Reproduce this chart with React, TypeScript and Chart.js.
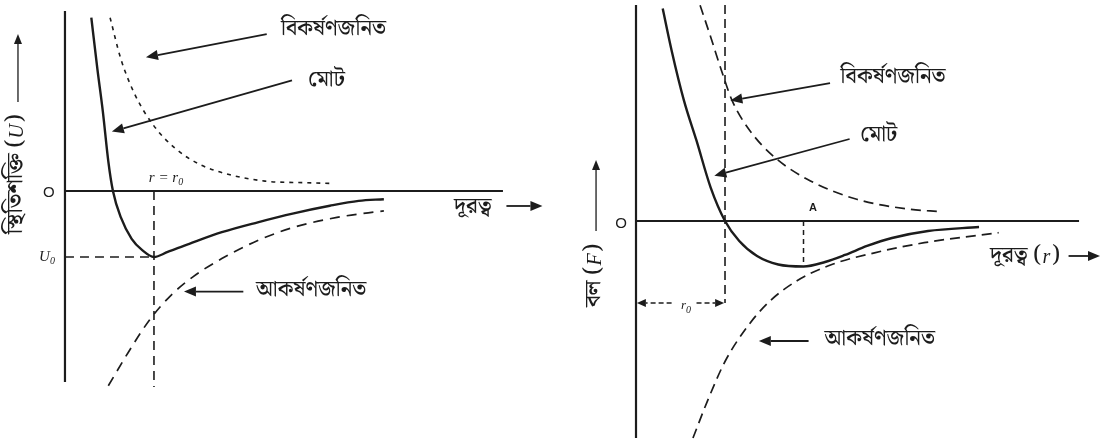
import React, { useEffect, useRef } from "react";
import { Chart, registerables } from "chart.js";

Chart.register(...registerables);

// ---------- Potential energy U(r): r in units of r0, U in units of |U0| ----------
const potTotalR = [0.296, 0.364, 0.426, 0.487, 0.539, 0.628, 0.749, 0.871, 1.0, 1.154, 1.397, 1.762, 2.166, 2.57, 2.976, 3.3, 3.583];
const potTotalU = [2.626, 1.85, 1.2, 0.45, 0, -0.4, -0.724, -0.9, -1.0, -0.924, -0.8, -0.624, -0.474, -0.339, -0.224, -0.15, -0.124];

const potRepR = [0.507, 0.628, 0.79, 0.992, 1.235, 1.518, 1.843, 2.247, 2.692, 2.976];
const potRepU = [2.626, 2.0, 1.45, 1.0, 0.65, 0.4, 0.25, 0.15, 0.126, 0.115];

const potAttR = [0.487, 0.709, 0.952, 1.194, 1.438, 1.762, 2.166, 2.57, 3.056, 3.583];
const potAttU = [-2.95, -2.45, -1.95, -1.576, -1.3, -1.024, -0.75, -0.55, -0.4, -0.3];

// ---------- Force F(r): r in units of r0, F in units of |F| at point A ----------
const forceTotalR = [0.3, 0.4, 0.539, 0.68, 0.839, 1.0, 1.16, 1.36, 1.598, 1.882, 2.124, 2.348, 2.596, 2.876, 3.281, 3.854];
const forceTotalF = [4.668, 3.749, 2.646, 1.765, 0.734, 0, -0.44, -0.771, -0.956, -1.0, -0.901, -0.747, -0.549, -0.374, -0.22, -0.132];

const forceRepR = [0.72, 0.839, 0.96, 1.08, 1.28, 1.56, 1.96, 2.48, 3.079, 3.419];
const forceRepF = [4.741, 4.044, 3.308, 2.646, 1.985, 1.396, 0.881, 0.477, 0.257, 0.207];

const forceAttR = [0.64, 0.8, 1.0, 1.24, 1.481, 1.801, 2.2, 2.68, 3.239, 4.075];
const forceAttF = [-4.769, -3.969, -3.088, -2.352, -1.802, -1.323, -0.956, -0.699, -0.477, -0.257];

// Special points
const R0 = 1;          // equilibrium separation
const U0 = -1;         // minimum potential energy
const R_A = 1.882;     // separation of maximum attraction (point A)
const F_A = -1;

// Labels
const LBL_REP = "বিকর্ষণজনিত";
const LBL_TOTAL = "মোট";
const LBL_ATT = "আকর্ষণজনিত";
const LBL_DIST = "দূরত্ব";
const LBL_POT = "স্থিতিশক্তি";
const LBL_FORCE = "বল";

const INK = "#1c1c1c";
const BN = "'Noto Serif Bengali', 'Noto Sans Bengali', 'Lohit Bengali', 'FreeSerif', 'Noto Sans', sans-serif";
const F_BN = `500 22px ${BN}`;
const F_BN_AX = `500 23px ${BN}`;
const F_IT = "italic 15px 'Liberation Serif', serif";
const F_IT_AX = "italic 20px 'Liberation Serif', serif";
const F_IT_S = "italic 10px 'Liberation Serif', serif";
const F_O = "15px 'Liberation Sans', sans-serif";

type Pt = { x: number; y: number };
type Run = [string, string];
type Note =
  | { type: "text"; x: number; y: number; runs: Run[]; align?: "left" | "center" }
  | { type: "vtext"; x: number; y: number; runs: Run[] }
  | { type: "arrow"; from: [number, number]; to: [number, number]; dash?: number[]; width?: number; head?: number; half?: number };

const zip = (xs: number[], ys: number[]): Pt[] => xs.map((x, i) => ({ x, y: ys[i] }));

function curve(data: Pt[], width: number, dash: number[] = [], smooth = true) {
  return {
    data,
    showLine: true,
    borderColor: INK,
    borderWidth: width,
    borderDash: dash,
    borderCapStyle: "butt",
    pointRadius: 0,
    pointHoverRadius: 0,
    fill: false,
    tension: 0,
    cubicInterpolationMode: smooth ? "monotone" : "default",
  };
}

function runsWidth(ctx: CanvasRenderingContext2D, runs: Run[]) {
  let w = 0;
  for (const [t, f] of runs) {
    ctx.font = f;
    w += ctx.measureText(t).width;
  }
  return w;
}

function drawRuns(ctx: CanvasRenderingContext2D, runs: Run[], x: number, y: number) {
  let cx = x;
  for (const [t, f] of runs) {
    ctx.font = f;
    const sub = f === F_IT_S;
    ctx.fillText(t, cx, sub ? y + 4 : y);
    cx += ctx.measureText(t).width;
  }
}

function arrow(ctx: CanvasRenderingContext2D, x1: number, y1: number, x2: number, y2: number, dash: number[] = [], width = 1.8, head = 12, half = 5) {
  const a = Math.atan2(y2 - y1, x2 - x1);
  const bx = x2 - head * Math.cos(a);
  const by = y2 - head * Math.sin(a);
  ctx.save();
  ctx.strokeStyle = INK;
  ctx.fillStyle = INK;
  ctx.lineWidth = width;
  ctx.setLineDash(dash);
  ctx.beginPath();
  ctx.moveTo(x1, y1);
  ctx.lineTo(bx, by);
  ctx.stroke();
  ctx.setLineDash([]);
  ctx.beginPath();
  ctx.moveTo(x2, y2);
  ctx.lineTo(bx - half * Math.sin(a), by + half * Math.cos(a));
  ctx.lineTo(bx + half * Math.sin(a), by - half * Math.cos(a));
  ctx.closePath();
  ctx.fill();
  ctx.restore();
}

interface Panel {
  left: number;
  width: number;
  xMin: number;
  xMax: number;
  yMin: number;
  yMax: number;
  datasets: any[];
  notes: Note[];
}

const potentialPanel: Panel = {
  left: 0,
  width: 560,
  xMin: -0.73,
  xMax: 5.562,
  yMin: -3.818,
  yMax: 2.894,
  datasets: [
    curve([{ x: 0, y: 2.727 }, { x: 0, y: -2.894 }], 2.2, [], false),
    curve([{ x: 0, y: 0 }, { x: 4.921, y: 0 }], 2.2, [], false),
    curve([{ x: R0, y: 0 }, { x: R0, y: -2.97 }], 1.6, [9, 6], false),
    curve([{ x: 0, y: U0 }, { x: R0, y: U0 }], 1.6, [9, 6], false),
    curve(zip(potTotalR, potTotalU), 2.4),
    curve(zip(potRepR, potRepU), 1.6, [4, 5]),
    curve(zip(potAttR, potAttU), 1.7, [10, 7]),
  ],
  notes: [
    { type: "text", x: 2.427, y: 2.424, runs: [[LBL_REP, F_BN]] },
    { type: "arrow", from: [2.267, 2.376], to: [0.91, 2.026] },
    { type: "text", x: 2.73, y: 1.652, runs: [[LBL_TOTAL, F_BN]] },
    { type: "arrow", from: [2.551, 1.676], to: [0.527, 0.9] },
    { type: "text", x: 2.146, y: -1.524, runs: [[LBL_ATT, F_BN]] },
    { type: "arrow", from: [2.004, -1.524], to: [1.337, -1.524] },
    { type: "text", x: 4.371, y: -0.273, runs: [[LBL_DIST, F_BN_AX]] },
    { type: "arrow", from: [4.96, -0.227], to: [5.365, -0.227] },
    { type: "text", x: -0.182, y: -0.024, runs: [["O", F_O]], align: "center" },
    { type: "text", x: -0.202, y: -1.0, runs: [["U", F_IT], ["0", F_IT_S]], align: "center" },
    { type: "text", x: 1.135, y: 0.197, runs: [["r = r", F_IT], ["0", F_IT_S]], align: "center" },
    { type: "vtext", x: -0.528, y: -0.65, runs: [[LBL_POT + " (", F_BN_AX], ["U", F_IT_AX], [")", F_BN_AX]] },
    { type: "arrow", from: [-0.528, 1.35], to: [-0.528, 2.379], width: 1.3, head: 10, half: 4 },
  ],
};

const forcePanel: Panel = {
  left: 560,
  width: 543,
  xMin: -0.854,
  xMax: 5.247,
  yMin: -4.879,
  yMax: 4.857,
  datasets: [
    curve([{ x: 0, y: 4.747 }, { x: 0, y: -4.769 }], 2.2, [], false),
    curve([{ x: 0, y: 0 }, { x: 4.978, y: 0 }], 2.2, [], false),
    curve([{ x: R0, y: 4.747 }, { x: R0, y: -1.802 }], 1.6, [9, 5], false),
    curve([{ x: R_A, y: 0 }, { x: R_A, y: F_A }], 1.5, [5, 4], false),
    curve(zip(forceTotalR, forceTotalF), 2.4),
    curve(zip(forceRepR, forceRepF), 1.7, [10, 6]),
    curve(zip(forceAttR, forceAttF), 1.7, [10, 6]),
  ],
  notes: [
    { type: "text", x: 2.299, y: 3.123, runs: [[LBL_REP, F_BN]] },
    { type: "arrow", from: [2.18, 3.029], to: [1.06, 2.646] },
    { type: "text", x: 2.52, y: 1.837, runs: [[LBL_TOTAL, F_BN]] },
    { type: "arrow", from: [2.4, 1.802], to: [0.88, 0.993] },
    { type: "text", x: 2.119, y: -2.646, runs: [[LBL_ATT, F_BN]] },
    { type: "arrow", from: [1.939, -2.637], to: [1.38, -2.637] },
    { type: "text", x: 3.978, y: -0.809, runs: [[LBL_DIST + " (", F_BN_AX], ["r", F_IT_AX], [")", F_BN_AX]] },
    { type: "arrow", from: [4.86, -0.769], to: [5.213, -0.769] },
    { type: "text", x: -0.169, y: -0.066, runs: [["O", F_O]], align: "center" },
    { type: "text", x: 1.989, y: 0.286, runs: [["A", "bold 11px 'Liberation Sans', sans-serif"]], align: "center" },
    { type: "text", x: 0.562, y: -1.868, runs: [["r", "italic 13px 'Liberation Serif', serif"], ["0", F_IT_S]], align: "center" },
    { type: "arrow", from: [0.4, -1.802], to: [0.01, -1.802], dash: [5, 3], width: 1.5, head: 9, half: 4 },
    { type: "arrow", from: [0.68, -1.802], to: [0.99, -1.802], dash: [5, 3], width: 1.5, head: 9, half: 4 },
    { type: "vtext", x: -0.449, y: -1.89, runs: [[LBL_FORCE + " (", F_BN_AX], ["F", F_IT_AX], [")", F_BN_AX]] },
    { type: "arrow", from: [-0.449, -0.22], to: [-0.449, 1.341], width: 1.3, head: 10, half: 4 },
  ],
};

function makeNotesPlugin(notes: Note[]) {
  return {
    id: "figureNotes",
    afterDatasetsDraw(chart: any) {
      const ctx: CanvasRenderingContext2D = chart.ctx;
      const xs = chart.scales.x;
      const ys = chart.scales.y;
      const X = (v: number) => xs.getPixelForValue(v);
      const Y = (v: number) => ys.getPixelForValue(v);
      ctx.save();
      ctx.fillStyle = INK;
      ctx.textBaseline = "middle";
      ctx.textAlign = "left";
      for (const n of notes) {
        if (n.type === "text") {
          const w = runsWidth(ctx, n.runs);
          const x0 = n.align === "center" ? X(n.x) - w / 2 : X(n.x);
          drawRuns(ctx, n.runs, x0, Y(n.y));
        } else if (n.type === "vtext") {
          ctx.save();
          ctx.translate(X(n.x), Y(n.y));
          ctx.rotate(-Math.PI / 2);
          drawRuns(ctx, n.runs, 0, 0);
          ctx.restore();
        } else {
          arrow(ctx, X(n.from[0]), Y(n.from[1]), X(n.to[0]), Y(n.to[1]), n.dash || [], n.width ?? 1.8, n.head ?? 12, n.half ?? 5);
        }
      }
      ctx.restore();
    },
  };
}

function PanelChart({ panel }: { panel: Panel }) {
  const ref = useRef<HTMLCanvasElement | null>(null);
  useEffect(() => {
    if (!ref.current) return;
    const chart = new Chart(ref.current, {
      type: "scatter",
      data: { datasets: panel.datasets },
      options: {
        animation: false,
        responsive: false,
        maintainAspectRatio: false,
        devicePixelRatio: 1,
        layout: { padding: 0 },
        events: [],
        plugins: { legend: { display: false }, tooltip: { enabled: false }, title: { display: false } },
        scales: {
          x: { type: "linear", min: panel.xMin, max: panel.xMax, display: false },
          y: { type: "linear", min: panel.yMin, max: panel.yMax, display: false },
        },
      },
      plugins: [makeNotesPlugin(panel.notes)],
    } as any);
    return () => chart.destroy();
  }, [panel]);
  return (
    <canvas
      ref={ref}
      width={panel.width}
      height={443}
      style={{ position: "absolute", left: panel.left, top: 0, width: panel.width, height: 443 }}
    />
  );
}

export default function App() {
  return (
    <div style={{ position: "fixed", left: 0, top: 0, width: 1103, height: 443, background: "#ffffff" }}>
      <PanelChart panel={potentialPanel} />
      <PanelChart panel={forcePanel} />
    </div>
  );
}
